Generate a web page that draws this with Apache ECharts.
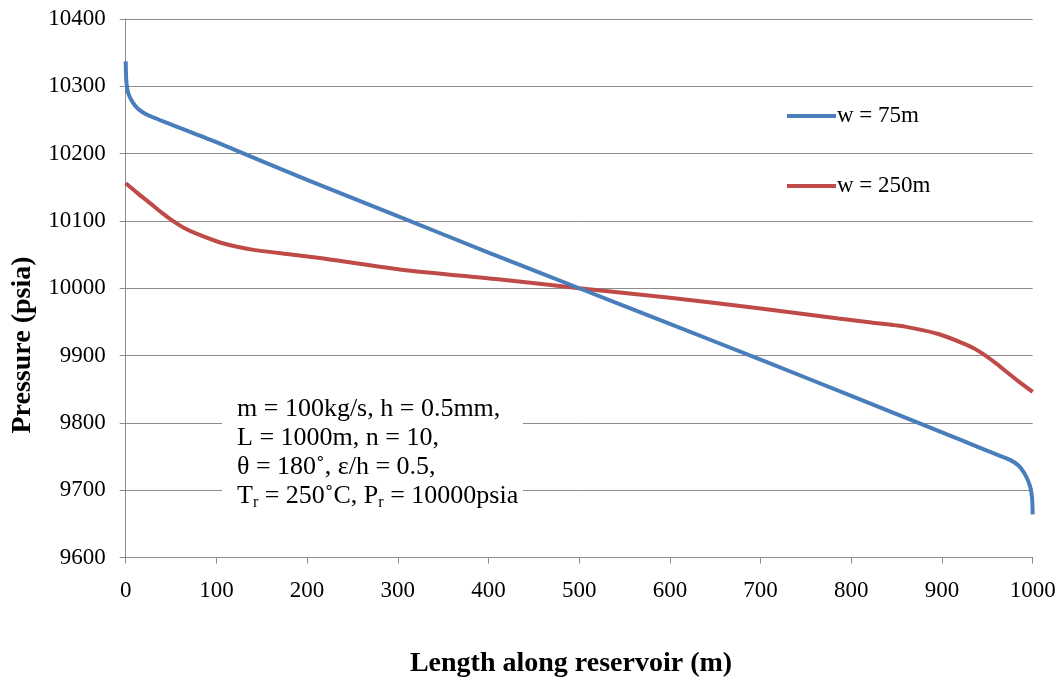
<!DOCTYPE html>
<html>
<head>
<meta charset="utf-8">
<script src="https://cdn.jsdelivr.net/npm/echarts@6/dist/echarts.min.js"></script>
<style>
  html, body { margin: 0; padding: 0; background: #fff; }
  #chart { width: 1062px; height: 683px; }
</style>
</head>
<body>
<div id="chart"></div>
<script>
// Length along reservoir (m) and pressure (psia) for the two fracture widths
const w75X = [0, 0.5, 1.5, 3, 6, 10, 15, 22, 30, 45, 64, 100, 200, 302, 400, 500, 600, 700, 800, 900, 940, 962, 975, 984, 990, 994, 997, 998.5, 999.5, 1000];
const w75P = [10337, 10312, 10298, 10289, 10280, 10272, 10265, 10259, 10254, 10246, 10236, 10217, 10161, 10106, 10053, 10000, 9947, 9894, 9840, 9786, 9764, 9752, 9745, 9737, 9727, 9717, 9706, 9697, 9685, 9664];

const w250X = [0, 16, 30, 40, 52, 65, 78, 104, 141, 178, 214, 302, 413, 500, 600, 700, 786, 822, 859, 896, 922, 935, 948, 960, 970, 984, 1000];
const w250P = [10156, 10138, 10123, 10112, 10100, 10089, 10081, 10068, 10057, 10051, 10045, 10028, 10013, 10000, 9986, 9970, 9955, 9949, 9943, 9932, 9919, 9911, 9900, 9888, 9877, 9862, 9846];

const seriesNames = ['w = 75m', 'w = 250m'];
const xTicks = { min: 0, max: 1000, step: 100 };
const yTicks = { min: 9600, max: 10400, step: 100 };

const SERIF = "'Times New Roman', 'Liberation Serif', serif";
const GRID_GRAY = '#8c8c8c';

const pairs = (xs, ys) => xs.map((x, i) => [x, ys[i]]);
const plain = v => String(v);

const chart = echarts.init(document.getElementById('chart'));
chart.setOption({
  animation: false,
  backgroundColor: '#ffffff',
  grid: { left: 125.7, right: 29.3, top: 19, bottom: 125.5, containLabel: false },
  xAxis: {
    type: 'value',
    min: xTicks.min, max: xTicks.max, interval: xTicks.step,
    axisLine: { show: true, lineStyle: { color: GRID_GRAY, width: 1 } },
    axisTick: { show: true, length: 6, lineStyle: { color: GRID_GRAY } },
    splitLine: { show: false },
    axisLabel: { color: '#000', fontFamily: SERIF, fontSize: 23, margin: 22, formatter: plain }
  },
  yAxis: {
    type: 'value',
    min: yTicks.min, max: yTicks.max, interval: yTicks.step,
    axisLine: { show: true, lineStyle: { color: GRID_GRAY, width: 1 } },
    axisTick: { show: true, length: 6, lineStyle: { color: GRID_GRAY } },
    splitLine: { show: true, lineStyle: { color: GRID_GRAY, width: 1 } },
    axisLabel: { color: '#000', fontFamily: SERIF, fontSize: 23, margin: 20, formatter: plain }
  },
  legend: {
    orient: 'vertical',
    left: 782, top: 98,
    icon: 'rect',
    itemWidth: 49, itemHeight: 4,
    itemGap: 44,
    textStyle: { color: '#000', fontFamily: SERIF, fontSize: 23, lineHeight: 26, padding: [0, 0, 0, -4] },
    data: seriesNames
  },
  series: [
    {
      name: seriesNames[0], type: 'line', data: pairs(w75X, w75P),
      showSymbol: false, smooth: 0.2,
      lineStyle: { color: '#4a7ebb', width: 4 }, itemStyle: { color: '#4a7ebb' }, z: 3
    },
    {
      name: seriesNames[1], type: 'line', data: pairs(w250X, w250P),
      showSymbol: false, smooth: 0.2,
      lineStyle: { color: '#be4b48', width: 4 }, itemStyle: { color: '#be4b48' }, z: 2
    }
  ],
  graphic: [
    {
      type: 'rect', z: 10,
      shape: { x: 222, y: 391, width: 301, height: 133 },
      style: { fill: '#ffffff' }
    },
    {
      type: 'text', z: 11,
      left: 237, top: 395,
      style: {
        text: 'm = 100kg/s, h = 0.5mm,\nL = 1000m, n = 10,\nθ = 180˚, ε/h = 0.5,\nT{sub|r} = 250˚C, P{sub|r} = 10000psia',
        fill: '#000',
        font: '26px ' + SERIF,
        lineHeight: 29,
        rich: {
          sub: { fontSize: 16, fontFamily: SERIF, fill: '#000', padding: [12, 0, 0, 0], lineHeight: 29 }
        }
      }
    },
    {
      type: 'text', z: 11,
      x: 23, y: 345, rotation: Math.PI / 2,
      style: {
        text: 'Pressure (psia)', fill: '#000',
        font: 'bold 28px ' + SERIF,
        align: 'center', verticalAlign: 'middle'
      }
    },
    {
      type: 'text', z: 11,
      x: 571, y: 664,
      style: {
        text: 'Length along reservoir (m)', fill: '#000',
        font: 'bold 28px ' + SERIF,
        align: 'center', verticalAlign: 'middle'
      }
    }
  ]
});
</script>
</body>
</html>
